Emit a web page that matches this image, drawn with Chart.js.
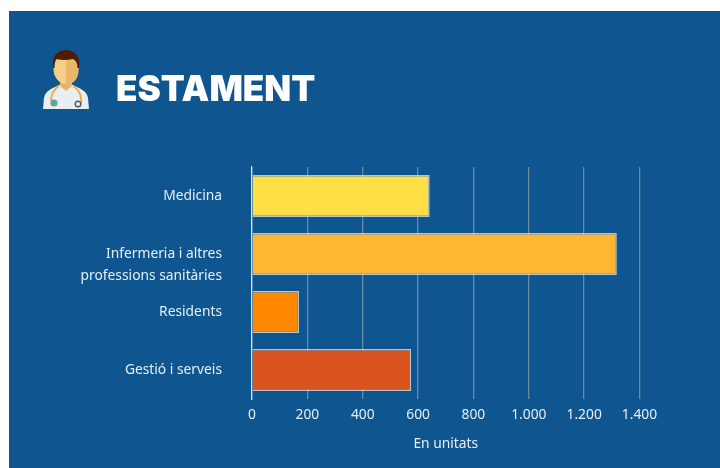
<!DOCTYPE html>
<html lang="ca">
<head>
<meta charset="utf-8">
<title>Estament</title>
<script src="https://cdn.jsdelivr.net/npm/chart.js@4/dist/chart.umd.min.js"></script>
<style>
  html, body { margin: 0; padding: 0; background: #fff; }
  body { width: 720px; height: 468px; overflow: hidden; position: relative; }
  #panel { position: absolute; left: 9px; top: 11px; width: 711px; height: 457px; background: #0f5690; }
  #chart { position: absolute; left: 0; top: 0; }
  #icon { position: absolute; left: 42px; top: 49px; }
  h1 {
    position: absolute; left: 116px; top: 67px; margin: 0;
    font: 900 35px/42px Inter, sans-serif; color: #fff; letter-spacing: 0;
  }
</style>
</head>
<body>
<div id="panel"></div>
<canvas id="chart" width="720" height="468"></canvas>
<svg id="icon" width="48" height="61" viewBox="0 0 48 61">
  <path d="M1 60 L2 49 Q3 42 13 38 L19 35 L29 35 L35 38 Q45 42 46 49 L47 60 Z" fill="#e9eef0"/>
  <path d="M18 30 L30 30 L30 37 L24 42 L18 37 Z" fill="#e3b56d"/>
  <path d="M17 37 Q9 42 9 52 M31 37 Q39 42 39 50 Q40 54 38 54" fill="none" stroke="#e8a93e" stroke-width="1.8"/>
  <circle cx="12" cy="54" r="3.6" fill="#5fa5a8"/>
  <circle cx="36" cy="55" r="2.8" fill="none" stroke="#45606a" stroke-width="1.4"/>
  <ellipse cx="24" cy="20" rx="12.5" ry="15" fill="#f5cf86"/>
  <path d="M24 5 Q36.5 6 36.5 20 Q36.5 35 24 35 Z" fill="#eab868"/>
  <path d="M11 19 Q9 2 24 1 Q39 2 37 19 L35.5 19 Q35.5 12 31 10 Q22 12 14 10 Q12.5 13 12.5 19 Z" fill="#4f1d06"/>
</svg>
<h1 id="title">ESTAMENT</h1>
<script>
// Estament: horizontal bars, en unitats
// the empty first line pushes the two-line label down, as in the original
var categories = ['Medicina', ['', 'Infermeria i altres', 'professions sanitàries'], 'Residents', 'Gestió i serveis'];
var units = [642, 1318, 170, 575];
var tickMax = 1400;
var tickStep = 200;
var axisTitle = 'En unitats';

var textColor = '#e6eef5';
var labelFont = { family: '"Noto Sans", "Open Sans", sans-serif', size: 13.8 };

new Chart(document.getElementById('chart').getContext('2d'), {
  type: 'bar',
  data: {
    labels: categories,
    datasets: [{
      label: axisTitle,
      data: units,
      backgroundColor: ['#ffdf43', '#ffb733', '#ff8800', '#d9541e'],
      borderColor: 'rgba(225,226,220,.8)',
      borderWidth: 1.5,
      barPercentage: 0.72,
      categoryPercentage: 1
    }]
  },
  options: {
    indexAxis: 'y',
    responsive: false,
    animation: false,
    layout: { padding: { top: 167, right: 80.5, bottom: 0, left: 0 } },
    plugins: {
      legend: { display: false },
      tooltip: { enabled: false }
    },
    scales: {
      x: {
        min: 0,
        max: tickMax,
        afterFit: function (scale) { scale.height = 69; },
        border: { display: false },
        grid: { color: 'rgba(190,190,175,.5)', lineWidth: 1.3, drawTicks: false },
        ticks: {
          stepSize: tickStep,
          padding: 8,
          maxRotation: 0,
          color: textColor,
          font: labelFont,
          callback: function (value) { return value.toLocaleString('de-DE'); }
        },
        title: {
          display: true,
          text: axisTitle,
          color: textColor,
          font: labelFont,
          padding: { top: 9, bottom: 16 }
        }
      },
      y: {
        afterFit: function (scale) { scale.width = 252; },
        border: { display: true, color: 'rgba(255,255,255,.75)', width: 1.3 },
        grid: { display: false },
        ticks: {
          autoSkip: false,
          padding: 22,
          color: textColor,
          font: { family: labelFont.family, size: labelFont.size, lineHeight: 1.6 }
        }
      }
    }
  }
});
</script>
</body>
</html>
